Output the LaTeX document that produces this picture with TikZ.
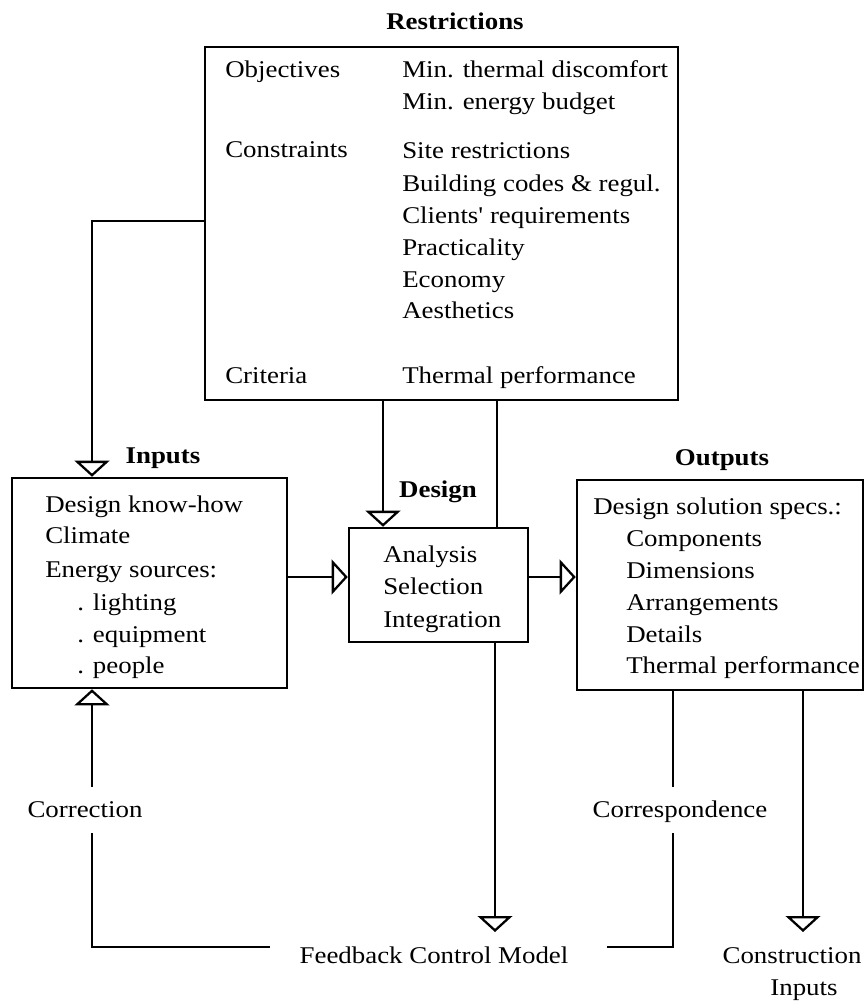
\documentclass[tikz,border=0pt]{standalone}
\usepackage{fontspec}
\setmainfont{Liberation Serif}[FakeStretch=1.12]
\newfontfamily\aposfont{Liberation Serif}[FakeStretch=1.12,Ligatures=ResetAll]
\usetikzlibrary{arrows.meta,fit}
\tikzset{
  box/.style={draw, line width=1.9pt, inner sep=0pt},
  conn/.style={line width=1.5pt},
  arr/.style={-{Triangle[open,length=12pt,width=26pt,line width=1.7pt]}},
  txt/.style={inner sep=0pt, anchor=base west, font=\fontsize{18pt}{24pt}\selectfont},
  ctxt/.style={inner sep=0pt, anchor=base, font=\fontsize{18pt}{24pt}\selectfont},
  btxt/.style={inner sep=0pt, anchor=base, font=\fontsize{18pt}{24pt}\selectfont\bfseries},
}
\begin{document}
\begin{tikzpicture}[x=0.75pt,y=-0.75pt]
\useasboundingbox (0,0) rectangle (865,1002);
% boxes
\node[box, fit={(205,47) (678,400)}] (restr) {};
\node[box, fit={(12,478) (287,688)}] (inputs) {};
\node[box, fit={(349,528) (528,642)}] (design) {};
\node[box, fit={(577,480) (863,690)}] (outputs) {};
% titles
\node[btxt] (tRestr) at (455,30) {Restrictions};
\node[btxt] (tInputs) at (163,463) {Inputs};
\node[btxt] (tDesign) at (438,497) {Design};
\node[btxt] (tOutputs) at (722,465) {Outputs};
% restrictions text
\node[txt] (r1) at (225,78) {Objectives};
\node[txt] (r2) at (225,157) {Constraints};
\node[txt] (r3) at (225,383) {Criteria};
\node[txt] (s1) at (402,78) {Min. thermal discomfort};
\node[txt] (s2) at (402,110) {Min. energy budget};
\node[txt] (s3) at (402,158) {Site restrictions};
\node[txt] (s4) at (402,191) {Building codes \& regul.};
\node[txt] (s5) at (402,223) {Clients{\aposfont'} requirements};
\node[txt] (s6) at (402,255) {Practicality};
\node[txt] (s7) at (402,287) {Economy};
\node[txt] (s8) at (402,318) {Aesthetics};
\node[txt] (s9) at (402,383) {Thermal performance};
% inputs text
\node[txt] (i1) at (45,512) {Design know-how};
\node[txt] (i2) at (45,543) {Climate};
\node[txt] (i3) at (45,577) {Energy sources:};
\node[txt] (i4) at (77,610) {. lighting};
\node[txt] (i5) at (77,642) {. equipment};
\node[txt] (i6) at (77,673) {. people};
% design text
\node[txt] (d1) at (383,562) {Analysis};
\node[txt] (d2) at (383,594) {Selection};
\node[txt] (d3) at (383,627) {Integration};
% outputs text
\node[txt] (o1) at (593,514) {Design solution specs.:};
\node[txt] (o2) at (626,546) {Components};
\node[txt] (o3) at (626,578) {Dimensions};
\node[txt] (o4) at (626,610) {Arrangements};
\node[txt] (o5) at (626,642) {Details};
\node[txt] (o6) at (626,673) {Thermal performance};
% bottom labels
\node[ctxt] (corr) at (85,817) {Correction};
\node[ctxt] (csp) at (680,817) {Correspondence};
\node[ctxt] (fb) at (434,963) {Feedback Control Model};
\node[ctxt] (ci1) at (792,963) {Construction};
\node[ctxt] (ci2) at (804,995) {Inputs};
% coordinates
\coordinate (corrTop) at (92,787);
\coordinate (corrBot) at (92,833);
\coordinate (fbL) at (270,947);
\coordinate (fbR) at (607,947);
\coordinate (cspTop) at (673,787);
\coordinate (cspBot) at (673,833);
\coordinate (fbTip) at (495,932);
\coordinate (ciTip) at (803,932);
% connectors
\draw[conn, arr] (restr.west |- 0,221) -| (inputs.north -| 92,0);
\draw[conn, arr] (restr.south -| 383,0) -- (design.north -| 383,0);
\draw[conn] (restr.south -| 497,0) -- (design.north -| 497,0);
\draw[conn, arr] (design.south -| fbTip) -- (fbTip);
\draw[conn, arr] (inputs.east |- 0,577) -- (design.west |- 0,577);
\draw[conn, arr] (design.east |- 0,577) -- (outputs.west |- 0,577);
\draw[conn] (fbL) -| (corrBot);
\draw[conn, arr] (corrTop) -- (inputs.south -| corrTop);
\draw[conn] (fbR) -| (cspBot);
\draw[conn] (cspTop) -- (outputs.south -| cspTop);
\draw[conn, arr] (outputs.south -| ciTip) -- (ciTip);
\end{tikzpicture}
\end{document}
